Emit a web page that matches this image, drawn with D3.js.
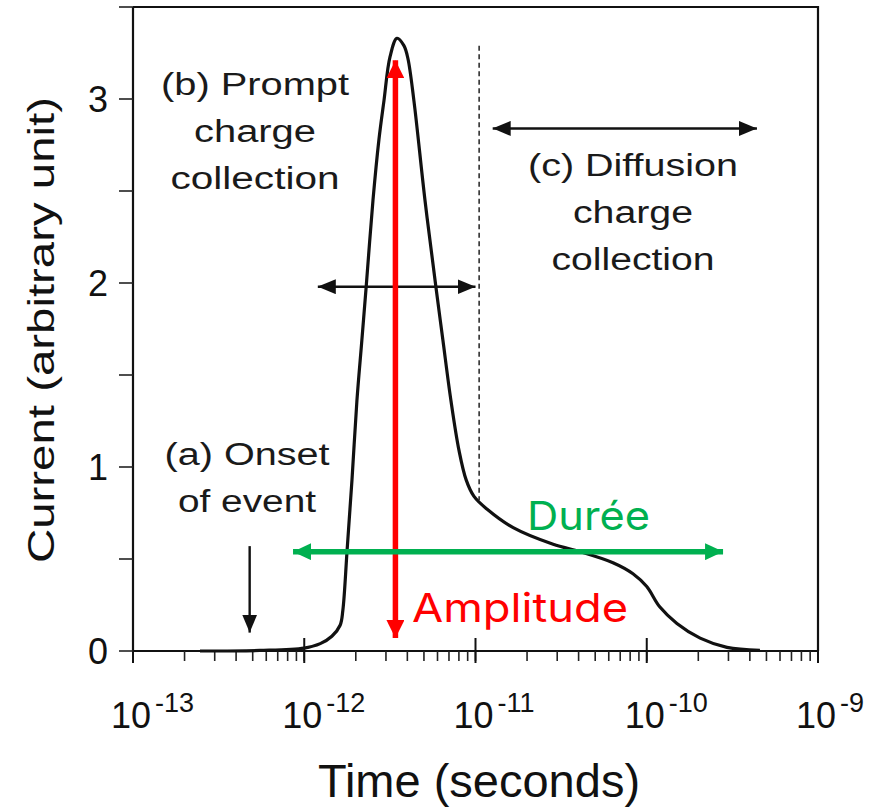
<!DOCTYPE html>
<html>
<head>
<meta charset="utf-8">
<script src="https://cdn.jsdelivr.net/npm/d3@7"></script>
<style>
  body { margin: 0; background: #fff; }
  svg { display: block; font-family: "Liberation Sans", Arial, sans-serif; }
</style>
</head>
<body>
<div id="chart"></div>
<script>
// curve: time (s) and current (arbitrary unit)
var times = [2.46e-13, 5.5e-13, 1.0e-12, 1.24e-12, 1.45e-12, 1.62e-12, 1.68e-12, 1.78e-12,
  1.90e-12, 2.03e-12, 2.17e-12, 2.30e-12, 2.52e-12, 2.73e-12, 2.92e-12, 3.17e-12, 3.48e-12,
  3.82e-12, 4.03e-12, 4.37e-12, 5.07e-12, 5.87e-12, 6.45e-12, 7.19e-12, 8.01e-12, 8.82e-12,
  9.80e-12, 1.17e-11, 1.66e-11, 2.84e-11, 4.08e-11, 6.35e-11, 8.31e-11, 1.0e-10, 1.19e-10,
  1.50e-10, 2.05e-10, 2.94e-10, 4.58e-10];
var currents = [0, 0.003, 0.016, 0.04, 0.08, 0.14, 0.22, 0.55,
  0.93, 1.36, 1.69, 1.98, 2.45, 2.78, 2.99, 3.23, 3.33,
  3.29, 3.22, 2.99, 2.45, 1.98, 1.69, 1.36, 1.09, 0.93,
  0.84, 0.77, 0.67, 0.58, 0.54, 0.48, 0.42, 0.35, 0.24,
  0.15, 0.07, 0.02, 0.003];

var xExponents = [-13, -12, -11, -10, -9];
var yTicks = [0, 0.5, 1, 1.5, 2, 2.5, 3, 3.5];
var yLabels = [0, 1, 2, 3];

// annotation markers in data units
var diffusionStart = 1.05e-11;   // dashed line
var promptSpan = [1.2e-12, 1.0e-11];
var diffusionSpan = [1.26e-11, 4.4e-10];
var onsetTime = 4.8e-13;
var peakTime = 3.5e-12;
var dureeSpan = [8.6e-13, 2.79e-10];
var dureeLevel = 0.54;

var W = 889, H = 808;
var svg = d3.select('#chart').append('svg')
  .attr('width', W)
  .attr('height', H);

var x = d3.scaleLog().domain([1e-13, 1e-9]).range([133, 818]);
var y = d3.scaleLinear().domain([0, 3.5]).range([651, 7]);

// frame (top + right)
svg.append('path')
  .attr('d', 'M' + x(1e-13) + ',' + y(3.5) + 'H' + x(1e-9) + 'V' + y(0))
  .attr('fill', 'none')
  .attr('stroke', '#111')
  .attr('stroke-width', 2.2);

// x axis: minor ticks from the log scale, majors cross the axis
var xAxis = svg.append('g').attr('transform', 'translate(0,' + y(0) + ')');
xAxis.append('line')
  .attr('x1', x(1e-13)).attr('x2', x(1e-9))
  .attr('stroke', '#111').attr('stroke-width', 2.2);
xAxis.selectAll('line.minor')
  .data(x.ticks())
  .enter().append('line')
    .attr('class', 'minor')
    .attr('x1', function(d){ return x(d); })
    .attr('x2', function(d){ return x(d); })
    .attr('y1', 0).attr('y2', 10)
    .attr('stroke', '#222').attr('stroke-width', 1.6);
xAxis.selectAll('line.major')
  .data(xExponents)
  .enter().append('line')
    .attr('class', 'major')
    .attr('x1', function(d){ return x(Math.pow(10, d)); })
    .attr('x2', function(d){ return x(Math.pow(10, d)); })
    .attr('y1', -13).attr('y2', 12)
    .attr('stroke', '#111').attr('stroke-width', 2);

var xl = xAxis.selectAll('text.xl')
  .data(xExponents)
  .enter().append('text')
    .attr('class', 'xl')
    .attr('x', function(d){ return x(Math.pow(10, d)) - 22; })
    .attr('y', 77)
    .attr('fill', '#111');
xl.append('tspan').attr('font-size', 36).text('10');
xl.append('tspan')
  .attr('font-size', 27)
  .attr('dx', 4)
  .attr('dy', -16)
  .text(function(d){ return '-' + Math.abs(d); });

svg.append('text')
  .attr('x', 479)
  .attr('y', 797)
  .attr('text-anchor', 'middle')
  .attr('font-size', 47)
  .attr('fill', '#111')
  .text('Time (seconds)');

// y axis
var yAxis = svg.append('g');
yAxis.append('line')
  .attr('x1', x(1e-13)).attr('x2', x(1e-13))
  .attr('y1', y(0)).attr('y2', y(3.5))
  .attr('stroke', '#111').attr('stroke-width', 2.2);
yAxis.selectAll('line.yt')
  .data(yTicks)
  .enter().append('line')
    .attr('class', 'yt')
    .attr('x1', x(1e-13) - 14).attr('x2', x(1e-13))
    .attr('y1', function(d){ return y(d); })
    .attr('y2', function(d){ return y(d); })
    .attr('stroke', '#222').attr('stroke-width', 1.6);
yAxis.selectAll('text.yl')
  .data(yLabels)
  .enter().append('text')
    .attr('class', 'yl')
    .attr('x', 108)
    .attr('y', function(d){ return y(d); })
    .attr('dy', '0.36em')
    .attr('text-anchor', 'end')
    .attr('font-size', 36)
    .attr('fill', '#111')
    .text(function(d){ return d; });

svg.append('text')
  .attr('transform', 'translate(54,330) rotate(-90)')
  .attr('text-anchor', 'middle')
  .attr('font-size', 36)
  .attr('textLength', 466)
  .attr('lengthAdjust', 'spacingAndGlyphs')
  .attr('fill', '#111')
  .text('Current (arbitrary unit)');

// the current pulse
var pts = times.map(function(t, i){ return [t, currents[i]]; });
svg.append('path')
  .datum(pts)
  .attr('fill', 'none')
  .attr('stroke', '#111')
  .attr('stroke-width', 3.2)
  .attr('stroke-linejoin', 'round')
  .attr('d', d3.line()
    .x(function(d){ return x(d[0]); })
    .y(function(d){ return y(d[1]); })
    .curve(d3.curveCatmullRom.alpha(0.5)));

// dashed separator
svg.append('line')
  .attr('x1', x(diffusionStart)).attr('x2', x(diffusionStart))
  .attr('y1', y(3.29)).attr('y2', y(0.82))
  .attr('stroke', '#222')
  .attr('stroke-width', 1.5)
  .attr('stroke-dasharray', '5,3.5');

// arrow heads as markers
var defs = svg.append('defs');
var marker = function(id, color, w, l){
  defs.append('marker')
    .attr('id', id)
    .attr('viewBox', '0 0 ' + l + ' ' + w)
    .attr('refX', l).attr('refY', w / 2)
    .attr('markerWidth', l).attr('markerHeight', w)
    .attr('markerUnits', 'userSpaceOnUse')
    .attr('orient', 'auto-start-reverse')
    .append('path')
      .attr('d', 'M0,0L' + l + ',' + (w / 2) + 'L0,' + w + 'Z')
      .attr('fill', color);
};
marker('blk', '#111', 15, 18);
marker('red', '#ff0000', 18, 18);
marker('grn', '#00b050', 17, 18);

var arrow = function(x1, y1, x2, y2, color, id, sw, both){
  var l = svg.append('line')
    .attr('x1', x1).attr('y1', y1).attr('x2', x2).attr('y2', y2)
    .attr('stroke', color).attr('stroke-width', sw)
    .attr('marker-end', 'url(#' + id + ')');
  if (both) l.attr('marker-start', 'url(#' + id + ')');
};

arrow(x(promptSpan[0]), y(1.98), x(promptSpan[1]), y(1.98), '#111', 'blk', 2.4, true);
arrow(x(diffusionSpan[0]), y(2.84), x(diffusionSpan[1]), y(2.84), '#111', 'blk', 2.4, true);
arrow(x(onsetTime), y(0.57), x(onsetTime), y(0.1), '#111', 'blk', 2.4, false);
arrow(x(peakTime) - 2, y(3.21), x(peakTime) - 2, y(0.07), '#ff0000', 'red', 5.5, true);
arrow(x(dureeSpan[0]), y(dureeLevel), x(dureeSpan[1]), y(dureeLevel), '#00b050', 'grn', 5.5, true);

// text annotations
var notes = [
  { lines: ['(b) Prompt', 'charge', 'collection'], cx: 255, y0: 95, widths: [188, 122, 169] },
  { lines: ['(c) Diffusion', 'charge', 'collection'], cx: 633, y0: 176, widths: [210, 120, 163] },
  { lines: ['(a) Onset', 'of event'], cx: 247, y0: 465, widths: [165, 138] }
];
notes.forEach(function(n){
  n.lines.forEach(function(s, i){
    svg.append('text')
      .attr('x', n.cx)
      .attr('y', n.y0 + i * 47)
      .attr('text-anchor', 'middle')
      .attr('font-size', 31)
      .attr('textLength', n.widths[i])
      .attr('lengthAdjust', 'spacingAndGlyphs')
      .attr('fill', '#1a1a1a')
      .text(s);
  });
});

svg.append('text')
  .attr('x', 527).attr('y', 530)
  .attr('font-family', 'Inter, "Noto Sans", sans-serif')
  .attr('font-size', 40)
  .attr('textLength', 123)
  .attr('lengthAdjust', 'spacingAndGlyphs')
  .attr('fill', '#00b050')
  .text('Durée');

svg.append('text')
  .attr('x', 412).attr('y', 622)
  .attr('font-family', 'Inter, "Noto Sans", sans-serif')
  .attr('font-size', 40)
  .attr('textLength', 216)
  .attr('lengthAdjust', 'spacingAndGlyphs')
  .attr('fill', '#ff0000')
  .text('Amplitude');
</script>
</body>
</html>
